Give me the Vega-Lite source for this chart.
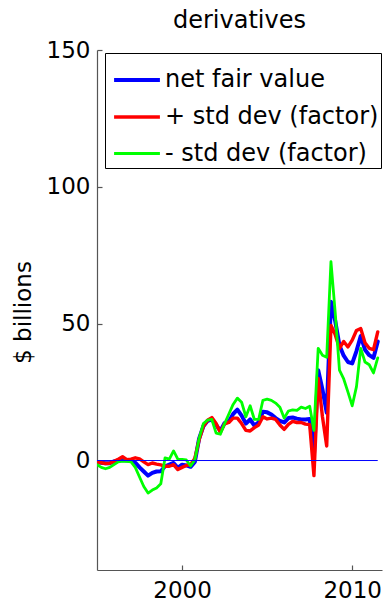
{
  "$schema": "https://vega.github.io/schema/vega-lite/v6.json",
  "width": 285,
  "height": 520,
  "autosize": "none",
  "padding": {"left": 97, "top": 50, "right": 5, "bottom": 34},
  "background": "white",
  "title": {"text": "derivatives", "fontSize": 24, "fontWeight": "normal", "font": "DejaVu Sans", "offset": 6, "color": "black", "anchor": "middle"},
  "config": {
    "view": {"stroke": null},
    "font": "DejaVu Sans",
    "axis": {"grid": false, "domainColor": "#555555", "tickColor": "#555555", "labelColor": "black", "labelFont": "DejaVu Sans", "labelFontSize": 23, "tickSize": -5, "domainWidth": 1.2, "tickWidth": 1.2}
  },
  "layer": [
    {
      "data": {"values": [
        {"t":1995.00,"net":-0.6,"plus":-0.5,"minus":-1.5},
        {"t":1995.25,"net":-0.8,"plus":-0.8,"minus":-2.5},
        {"t":1995.50,"net":-1.0,"plus":-1.1,"minus":-3.0},
        {"t":1995.75,"net":-1.0,"plus":-1.0,"minus":-2.5},
        {"t":1996.00,"net":-0.3,"plus":-0.3,"minus":-1.5},
        {"t":1996.25,"net":0.0,"plus":0.5,"minus":-0.5},
        {"t":1996.50,"net":0.2,"plus":1.4,"minus":-0.2},
        {"t":1996.75,"net":0.0,"plus":0.3,"minus":-0.3},
        {"t":1997.00,"net":0.0,"plus":0.5,"minus":-0.5},
        {"t":1997.25,"net":-0.8,"plus":1.0,"minus":-2.5},
        {"t":1997.50,"net":-2.5,"plus":0.6,"minus":-6.0},
        {"t":1997.75,"net":-4.0,"plus":-0.5,"minus":-9.5},
        {"t":1998.00,"net":-5.5,"plus":-1.5,"minus":-11.9},
        {"t":1998.25,"net":-4.5,"plus":-0.9,"minus":-10.8},
        {"t":1998.50,"net":-4.0,"plus":-1.3,"minus":-10.0},
        {"t":1998.75,"net":-3.9,"plus":-1.6,"minus":-8.5},
        {"t":1999.00,"net":-2.1,"plus":-2.1,"minus":1.0},
        {"t":1999.25,"net":-1.5,"plus":-2.1,"minus":0.5},
        {"t":1999.50,"net":-0.9,"plus":-1.5,"minus":3.5},
        {"t":1999.75,"net":-2.7,"plus":-3.3,"minus":0.5},
        {"t":2000.00,"net":-1.5,"plus":-2.5,"minus":0.4},
        {"t":2000.25,"net":-1.8,"plus":-1.8,"minus":0.2},
        {"t":2000.50,"net":-2.3,"plus":-1.5,"minus":-2.0},
        {"t":2000.75,"net":-0.5,"plus":0.8,"minus":0.3},
        {"t":2001.00,"net":8.0,"plus":7.5,"minus":8.0},
        {"t":2001.25,"net":12.5,"plus":12.5,"minus":13.5},
        {"t":2001.50,"net":14.5,"plus":14.7,"minus":14.8},
        {"t":2001.75,"net":15.0,"plus":15.7,"minus":15.0},
        {"t":2002.00,"net":13.0,"plus":13.5,"minus":10.0},
        {"t":2002.25,"net":10.8,"plus":10.2,"minus":9.6},
        {"t":2002.50,"net":13.7,"plus":13.4,"minus":13.5},
        {"t":2002.75,"net":14.3,"plus":13.9,"minus":17.0},
        {"t":2003.00,"net":17.0,"plus":15.5,"minus":20.5},
        {"t":2003.25,"net":18.6,"plus":15.5,"minus":22.8},
        {"t":2003.50,"net":16.4,"plus":13.5,"minus":21.3},
        {"t":2003.75,"net":13.5,"plus":11.0,"minus":16.0},
        {"t":2004.00,"net":15.0,"plus":10.8,"minus":20.0},
        {"t":2004.25,"net":12.8,"plus":12.0,"minus":15.0},
        {"t":2004.50,"net":14.0,"plus":13.0,"minus":15.0},
        {"t":2004.75,"net":17.8,"plus":16.0,"minus":22.0},
        {"t":2005.00,"net":17.6,"plus":15.2,"minus":22.4},
        {"t":2005.25,"net":16.8,"plus":15.5,"minus":22.0},
        {"t":2005.50,"net":15.5,"plus":15.0,"minus":21.0},
        {"t":2005.75,"net":14.5,"plus":13.0,"minus":19.5},
        {"t":2006.00,"net":13.9,"plus":11.4,"minus":15.5},
        {"t":2006.25,"net":15.5,"plus":13.2,"minus":18.1},
        {"t":2006.50,"net":15.7,"plus":14.3,"minus":18.5},
        {"t":2006.75,"net":15.3,"plus":13.9,"minus":18.3},
        {"t":2007.00,"net":15.0,"plus":13.9,"minus":19.5},
        {"t":2007.25,"net":15.0,"plus":13.3,"minus":19.0},
        {"t":2007.50,"net":15.2,"plus":13.1,"minus":19.8},
        {"t":2007.75,"net":2.0,"plus":-5.5,"minus":11.0},
        {"t":2008.00,"net":33.0,"plus":30.0,"minus":41.0},
        {"t":2008.25,"net":26.0,"plus":16.0,"minus":38.5},
        {"t":2008.50,"net":17.5,"plus":5.3,"minus":37.7},
        {"t":2008.75,"net":58.0,"plus":49.4,"minus":72.7},
        {"t":2009.00,"net":51.0,"plus":46.0,"minus":54.0},
        {"t":2009.25,"net":42.0,"plus":41.0,"minus":33.0},
        {"t":2009.50,"net":38.3,"plus":43.5,"minus":29.8},
        {"t":2009.75,"net":36.0,"plus":41.5,"minus":25.0},
        {"t":2010.00,"net":35.5,"plus":44.0,"minus":20.0},
        {"t":2010.25,"net":40.0,"plus":47.5,"minus":27.0},
        {"t":2010.50,"net":45.5,"plus":48.2,"minus":41.0},
        {"t":2010.75,"net":40.5,"plus":43.0,"minus":36.0},
        {"t":2011.00,"net":38.5,"plus":41.0,"minus":35.0},
        {"t":2011.25,"net":37.5,"plus":40.5,"minus":32.0},
        {"t":2011.50,"net":43.5,"plus":47.0,"minus":37.5}
      ]},
      "transform": [{"fold": ["net", "plus", "minus"], "as": ["series", "value"]}],
      "mark": {"type": "line", "clip": true, "strokeJoin": "round", "strokeCap": "round"},
      "encoding": {
        "x": {"field": "t", "type": "quantitative", "scale": {"domain": [1995, 2011.75], "nice": false, "zero": false},
              "axis": {"title": null, "values": [2000, 2010], "format": "d", "labelPadding": 14}},
        "y": {"field": "value", "type": "quantitative", "scale": {"domain": [-40, 150], "nice": false},
              "axis": {"title": "$ billions", "values": [0, 50, 100, 150], "labelPadding": 12, "titleFontSize": 23, "titleFontWeight": "normal", "titleFont": "DejaVu Sans", "titleColor": "black", "titleX": -74, "titleY": 262, "titleAngle": -90, "titleBaseline": "middle", "titleAlign": "center"}},
        "color": {"field": "series", "type": "nominal",
                  "scale": {"domain": ["net", "plus", "minus"], "range": ["#0000ff", "#ff0000", "#00ff00"]},
                  "legend": {"title": null, "orient": "none", "legendX": 8, "legendY": 3, "direction": "vertical",
                             "labelExpr": "datum.label == 'net' ? 'net fair value' : datum.label == 'plus' ? '+ std dev (factor)' : '- std dev (factor)'",
                             "labelFontSize": 24, "labelFont": "DejaVu Sans", "labelColor": "black", "labelLimit": 400,
                             "symbolType": "stroke", "symbolSize": 2100, "symbolStrokeWidth": 3, "symbolOffset": 5,
                             "strokeColor": "black", "fillColor": "white", "padding": 2, "rowPadding": -10, "labelOffset": 3}},
        "strokeWidth": {"field": "series", "type": "nominal",
                        "scale": {"domain": ["net", "plus", "minus"], "range": [4, 2.8, 2.8]},
                        "legend": null}
      }
    },
    {
      "data": {"values": [{"t": 1995, "v": 0}, {"t": 2011.5, "v": 0}]},
      "mark": {"type": "line", "color": "#0000ff", "strokeWidth": 1},
      "encoding": {
        "x": {"field": "t", "type": "quantitative"},
        "y": {"field": "v", "type": "quantitative"}
      }
    }
  ]
}
